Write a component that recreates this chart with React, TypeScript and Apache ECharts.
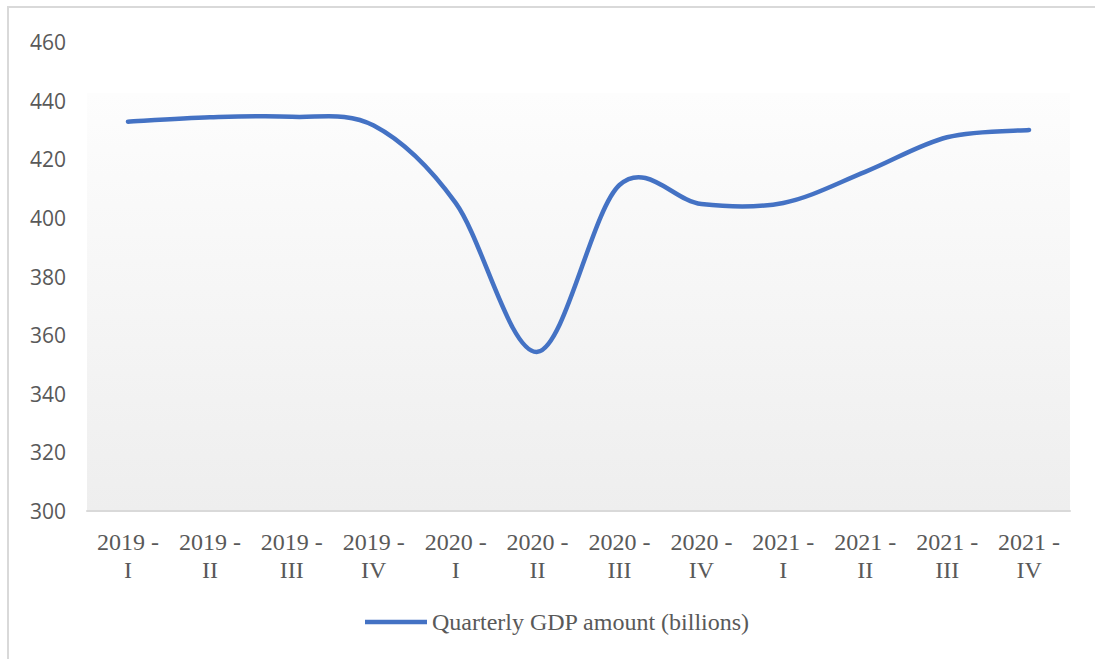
import React, { useEffect, useRef } from "react";
import * as echarts from "echarts";

const categories = [
  "2019 - I", "2019 - II", "2019 - III", "2019 - IV",
  "2020 - I", "2020 - II", "2020 - III", "2020 - IV",
  "2021 - I", "2021 - II", "2021 - III", "2021 - IV",
];
const gdpValues = [432.8, 434.3, 434.5, 431.5, 405.1, 354.3, 411.2, 404.7, 405.1, 415.7, 427.5, 430.0];
const seriesName = "Quarterly GDP amount (billions)";
const yMin = 300;
const yMax = 460;
const yInterval = 20;

const LINE_COLOR = "#4472C4";

export default function App() {
  const ref = useRef<HTMLDivElement>(null);
  useEffect(() => {
    document.body.style.margin = "0";
    const chart = echarts.init(ref.current!, undefined, { renderer: "svg" });

    // Excel-style smoothed line (Catmull-Rom, tension 1/6) through points placed by the axes
    const renderItem = (params: any, api: any) => {
      if (params.dataIndex !== 0) return null;
      const pts = gdpValues.map((v, i) => api.coord([i, v]) as number[]);
      const n = pts.length;
      let d = `M${pts[0][0]},${pts[0][1]}`;
      for (let i = 0; i < n - 1; i++) {
        const p0 = pts[Math.max(0, i - 1)];
        const p1 = pts[i];
        const p2 = pts[i + 1];
        const p3 = pts[Math.min(n - 1, i + 2)];
        const c1x = p1[0] + (p2[0] - p0[0]) / 6;
        const c1y = p1[1] + (p2[1] - p0[1]) / 6;
        const c2x = p2[0] - (p3[0] - p1[0]) / 6;
        const c2y = p2[1] - (p3[1] - p1[1]) / 6;
        d += ` C${c1x},${c1y} ${c2x},${c2y} ${p2[0]},${p2[1]}`;
      }
      return {
        type: "path",
        shape: { pathData: d },
        style: { fill: "none", stroke: LINE_COLOR, lineWidth: 4.5, lineCap: "round", lineJoin: "round" },
        silent: true,
      };
    };

    chart.setOption({
      animation: false,
      backgroundColor: "#ffffff",
      textStyle: { fontFamily: "Liberation Serif" },
      graphic: [
        {
          type: "rect",
          shape: { x: 8, y: 7, width: 1300, height: 900 },
          style: { fill: "none", stroke: "#d9d9d9", lineWidth: 2 },
          silent: true,
        },
      ],
      grid: {
        left: 87,
        right: 25,
        top: 42,
        bottom: 148,
        show: true,
        borderWidth: 0,
        backgroundColor: new echarts.graphic.LinearGradient(0, 0, 0, 1, [
          { offset: 0, color: "#ffffff" },
          { offset: 0.108, color: "#ffffff" },
          { offset: 0.11, color: "#fdfdfd" },
          { offset: 1, color: "#eeeeee" },
        ]),
      },
      legend: {
        data: [{ name: seriesName, itemStyle: { color: LINE_COLOR } }],
        left: 365,
        top: 610,
        padding: 0,
        itemWidth: 62,
        itemHeight: 14,
        itemGap: 10,
        icon: "path://M0,0 L62,0 L62,4.5 L0,4.5 Z",
        textStyle: {
          fontFamily: "Liberation Serif",
          fontSize: 24,
          color: "#595959",
        },
      },
      xAxis: {
        type: "category",
        data: categories,
        boundaryGap: true,
        axisLine: { show: true, lineStyle: { color: "#d9d9d9", width: 2 } },
        axisTick: { show: false },
        axisLabel: {
          interval: 0,
          margin: 17,
          fontFamily: "Liberation Serif",
          fontSize: 24,
          lineHeight: 28,
          color: "#595959",
          formatter: (v: string) => v.replace(" - ", " -\n"),
        },
      },
      yAxis: {
        type: "value",
        min: yMin,
        max: yMax,
        interval: yInterval,
        axisLine: { show: false },
        axisTick: { show: false },
        splitLine: { show: false },
        axisLabel: {
          margin: 21,
          fontFamily: "Open Sans",
          fontSize: 21,
          color: "#595959",
        },
      },
      series: [
        {
          name: seriesName,
          type: "custom",
          coordinateSystem: "cartesian2d",
          renderItem,
          data: gdpValues.map((v, i) => [i, v]),
          encode: { x: 0, y: 1 },
          itemStyle: { color: LINE_COLOR },
        },
      ],
    });
    return () => chart.dispose();
  }, []);
  return <div ref={ref} style={{ width: 1095, height: 659 }} />;
}
